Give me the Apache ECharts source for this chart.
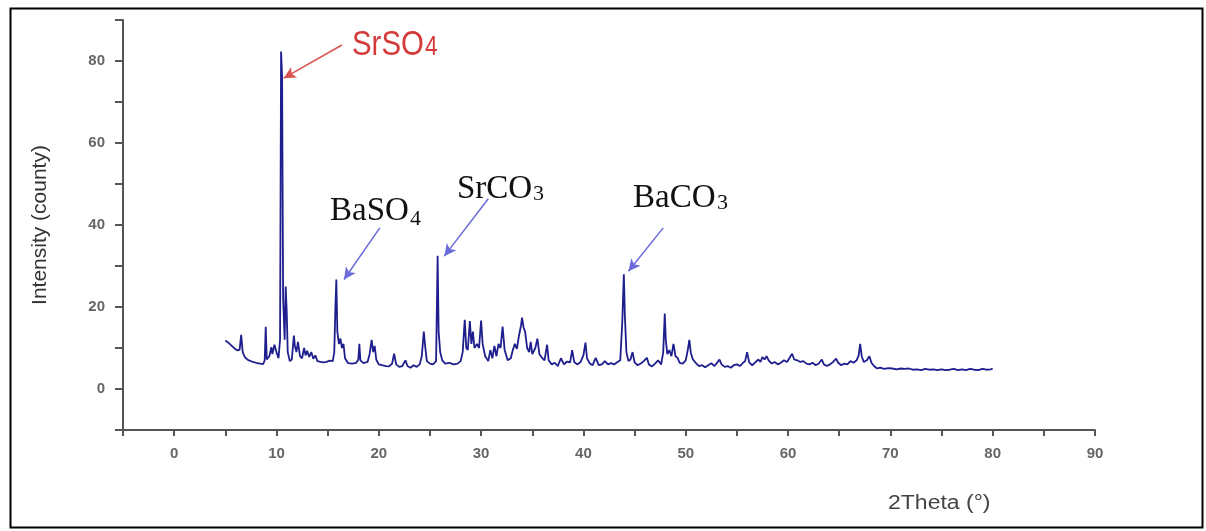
<!DOCTYPE html>
<html lang="en">
<head>
<meta charset="UTF-8">
<title>XRD pattern</title>
<script src="https://cdn.jsdelivr.net/npm/echarts@6/dist/echarts.min.js"></script>
<style>
  html, body { margin: 0; padding: 0; background: #fff; }
  #chart { width: 1206px; height: 531px; }
</style>
</head>
<body>
<div id="chart"></div>
<script>
// diffraction pattern: [2theta, intensity]
const lowAngle = [
  [5.0,11.8],[5.3,11.3],[5.6,10.6],[5.9,9.9],[6.2,9.4],[6.4,9.6],[6.55,13.2],[6.7,9.0],[6.9,7.8],[7.2,7.1],
  [7.6,6.7],[8.0,6.4],[8.4,6.2],[8.7,6.1],[8.85,7.0],[8.95,15.2],[9.05,7.2],[9.3,8.0],[9.5,10.2],[9.6,8.5],
  [9.8,10.8],[10.0,9.0],[10.2,7.5],[10.35,12],[10.45,82.3],[10.55,76],[10.65,22],[10.8,12],[10.9,25.0],[11.0,19],
  [11.1,9],[11.3,6.8],[11.5,7.2],[11.7,13.0],[11.8,10.5],[11.95,9.0],[12.1,11.5],[12.3,8.0],[12.5,7.5],[12.7,10],
  [12.85,8.2],[13.0,9.3],[13.2,7.8],[13.4,9.0],[13.6,7.4],[13.8,8.2],[14.0,6.8],[14.3,6.6],[14.6,6.5],[14.9,6.6],
  [15.2,6.9],[15.5,6.8],[15.65,9],[15.75,19],[15.85,26.7],[15.95,14],[16.1,11],[16.25,12.3],[16.4,10],[16.55,11],
  [16.7,7.5],[17.0,6.3],[17.4,6.2],[17.8,6.4],[18.0,7.2],[18.1,11],[18.2,7.0],[18.5,6.3],[18.9,6.6],[19.1,8.5],
  [19.3,12],[19.45,9],[19.6,10.5],[19.75,7.2],[20.0,6.0]
];
const midAngle = [
  [20.3,5.8],[20.7,5.6],[21.0,5.5],[21.3,6.2],[21.5,8.6],[21.7,6.0],[22.0,5.4],[22.3,5.6],[22.6,7.0],[22.8,5.6],
  [23.1,5.2],[23.4,5.8],[23.7,5.4],[24.0,6.0],[24.2,8.0],[24.4,14.0],[24.55,10],[24.7,6.8],[25.0,6.2],[25.3,6.0],
  [25.6,6.8],[25.75,32.5],[25.85,14],[26.0,9],[26.2,7.0],[26.5,6.2],[26.9,6.4],[27.3,6.0],[27.7,6.2],[28.0,6.8],
  [28.2,9],[28.4,16.9],[28.55,10],[28.7,9.5],[28.9,16.6],[29.05,11],[29.2,14],[29.35,10],[29.6,11],[29.8,10],
  [30.0,16.7],[30.15,11],[30.4,8],[30.7,6.8],[30.9,9.5],[31.1,7.5],[31.3,10.5],[31.5,8],[31.7,11],[31.9,10],
  [32.1,15.2],[32.3,9.5],[32.6,7.0],[32.9,7.5],[33.1,9.5],[33.3,11],[33.5,9.8],[33.7,13],[33.9,15.5],[34.0,17.4],
  [34.15,15],[34.3,14],[34.5,10],[34.7,9],[34.85,11.5],[35.0,8.5],[35.3,10],[35.5,12.3],[35.7,8.5],[35.9,7.8],
  [36.2,7.0],[36.45,10.8],[36.6,7],[36.9,6.0],[37.2,6.4],[37.5,5.6],[37.8,7.5],[38.1,6.0],[38.4,6.7],[38.7,6.5],
  [38.9,9.5],[39.1,6.6],[39.4,6.0],[39.7,6.5],[40.0,8.2],[40.2,11.3],[40.35,7.5],[40.6,6.3],[40.9,5.8]
];
const highAngle = [
  [41.2,7.6],[41.5,5.8],[41.8,6.0],[42.1,6.8],[42.4,6.0],[42.7,6.3],[43.0,6.0],[43.3,6.5],[43.6,7.0],[43.8,16.4],
  [43.95,28.0],[44.05,18],[44.2,9],[44.4,6.8],[44.6,7.2],[44.8,9.0],[45.0,6.5],[45.3,5.8],[45.6,6.2],[45.9,6.8],
  [46.2,7.6],[46.4,6.0],[46.7,5.5],[47.0,6.2],[47.3,7.0],[47.6,6.0],[47.8,9],[47.95,18.4],[48.05,12],[48.2,8.5],
  [48.4,9.5],[48.6,8],[48.8,11],[49.0,8.0],[49.2,7.6],[49.4,6.4],[49.7,6.2],[50.0,7.0],[50.2,9.5],[50.35,12],
  [50.5,8.8],[50.7,7.2],[51.0,6.3],[51.3,5.6],[51.6,5.8],[51.9,5.3],[52.2,5.8],[52.5,6.3],[52.8,5.6],[53.1,6.5],
  [53.3,7.2],[53.5,6.0],[53.8,5.4],[54.1,5.6],[54.4,5.2],[54.7,5.8],[55.0,6.0],[55.3,5.6],[55.6,6.4],[55.8,6.8],
  [56.0,9.0],[56.2,6.5],[56.5,5.8],[56.8,6.5],[57.1,7.2],[57.3,6.6],[57.5,7.8],[57.7,7.2],[57.9,8.0],[58.1,7.0],
  [58.4,6.2],[58.7,6.6],[59.0,6.0],[59.3,6.4],[59.6,7.0],[59.9,6.6],[60.2,7.8],[60.4,8.6],[60.6,7.2]
];
const tailAngle = [
  [60.9,7.0],[61.2,6.6],[61.5,6.8],[61.8,6.2],[62.1,6.0],[62.4,6.4],[62.7,5.8],[63.0,6.2],[63.3,7.2],[63.5,6.0],
  [63.8,5.6],[64.1,6.0],[64.4,6.6],[64.7,7.4],[64.9,6.4],[65.2,5.8],[65.5,6.2],[65.8,6.0],[66.1,6.8],[66.4,6.4],
  [66.7,7.0],[66.9,8.2],[67.05,11.0],[67.2,8.0],[67.4,6.6],[67.7,7.0],[67.95,8.0],[68.15,6.4],[68.4,5.6],[68.7,5.0],
  [69.0,5.2],[69.4,4.9],[69.8,5.1],[70.2,5.0],[70.6,4.8],[71.0,5.0],[71.4,4.9],[71.8,5.0],[72.2,4.7],[72.6,4.8],
  [73.0,4.6],[73.4,4.9],[73.8,4.7],[74.2,4.8],[74.6,4.6],[75.0,4.8],[75.4,4.6],[75.8,4.7],[76.2,4.9],[76.6,4.6],
  [77.0,4.8],[77.4,4.6],[77.8,4.9],[78.2,4.7],[78.6,4.6],[79.0,4.9],[79.4,4.7],[79.8,4.8],[80.0,5.0]
];

// arrows pointing at the phase peaks: [from, to] in data coords
const arrowSrSO4 = [[16.4, 83.9], [10.7, 75.8]];
const arrowBaSO4 = [[20.1, 39.3], [16.6, 26.7]];
const arrowSrCO3 = [[30.7, 46.4], [26.4, 32.4]];
const arrowBaCO3 = [[47.8, 39.3], [44.4, 28.7]];

const pattern = lowAngle.concat(midAngle, highAngle, tailAngle);

const chart = echarts.init(document.getElementById('chart'));

function arrow(pts, color) {
  return [
    { coord: pts[0], lineStyle: { color: color } },
    { coord: pts[1], lineStyle: { color: color } }
  ];
}

// phase label: main text + lowered subscript digit (group may be squeezed with sx)
function phase(x, y, main, sub, o) {
  return {
    type: 'group', x: x, y: y, scaleX: o.sx || 1,
    children: [
      { type: 'text', x: 0, y: 0,
        style: { text: main, fontFamily: o.font, fontSize: o.size, fill: o.color, verticalAlign: 'middle' } },
      { type: 'text', x: o.subDx, y: o.subDy,
        style: { text: sub, fontFamily: o.font, fontSize: o.subSize, fill: o.color, verticalAlign: 'middle' } }
    ]
  };
}

const serif = { font: 'Liberation Serif', size: 33, subSize: 22, color: '#111' };
const axisFont = 'Liberation Sans';

const option = {
  animation: false,
  backgroundColor: '#fff',
  grid: { left: 123, right: 111, top: 20, bottom: 101 },
  xAxis: {
    type: 'value',
    min: -5, max: 90, interval: 5,
    axisLine: { onZero: false, lineStyle: { color: '#555', width: 2 } },
    axisTick: { length: 6, lineStyle: { color: '#555', width: 2 } },
    axisLabel: {
      margin: 16,
      color: '#666', fontSize: 15, fontWeight: 'bold', fontFamily: axisFont,
      formatter: function (v) { return v % 10 === 0 ? String(v) : ''; }
    },
    splitLine: { show: false }
  },
  yAxis: {
    type: 'value',
    min: -10, max: 90, interval: 10,
    name: 'Intensity (county)',
    nameLocation: 'middle', nameGap: 72,
    nameTextStyle: { color: '#333', fontSize: 21, fontFamily: axisFont },
    axisLine: { onZero: false, lineStyle: { color: '#555', width: 2 } },
    axisTick: { length: 8, lineStyle: { color: '#555', width: 2 } },
    axisLabel: {
      margin: 18,
      color: '#666', fontSize: 15, fontWeight: 'bold', fontFamily: axisFont,
      formatter: function (v) { return (v >= 0 && v % 20 === 0) ? String(v) : ''; }
    },
    splitLine: { show: false }
  },
  series: [{
    type: 'line',
    data: pattern,
    showSymbol: false,
    lineStyle: { color: '#1e1e8e', width: 1.8 },
    markLine: {
      silent: true,
      symbol: ['none', 'arrow'],
      symbolSize: [9, 12],
      label: { show: false },
      lineStyle: { type: 'solid', width: 1.5 },
      data: [
        arrow(arrowSrSO4, '#d9534f'),
        arrow(arrowBaSO4, '#6a6adb'),
        arrow(arrowSrCO3, '#6a6adb'),
        arrow(arrowBaCO3, '#6a6adb')
      ]
    }
  }],
  graphic: [
    { type: 'rect', left: 8, top: 6, shape: { width: 1192, height: 519 },
      style: { fill: 'none', stroke: '#000', lineWidth: 2 } },
    phase(352, 45, 'SrSO', '4',
      { font: axisFont, size: 35, subSize: 27, color: '#d33a3a', subDx: 87, subDy: 3, sx: 0.84 }),
    phase(330, 211, 'BaSO', '4', Object.assign({ subDx: 80, subDy: 8 }, serif)),
    phase(457, 189, 'SrCO', '3', Object.assign({ subDx: 76, subDy: 5 }, serif)),
    phase(633, 198, 'BaCO', '3', Object.assign({ subDx: 84, subDy: 5 }, serif)),
    { type: 'text', x: 888, y: 503, scaleX: 1.15,
      style: { text: '2Theta (°)', fill: '#444', fontSize: 20, fontFamily: axisFont, verticalAlign: 'middle' } }
  ]
};

chart.setOption(option);
</script>
</body>
</html>
